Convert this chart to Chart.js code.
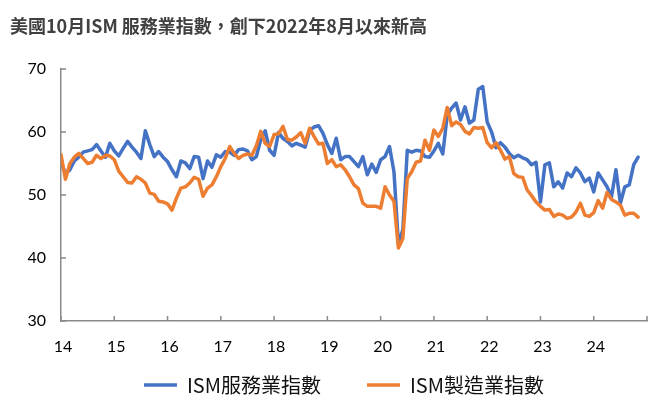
<!DOCTYPE html>
<html>
<head>
<meta charset="utf-8">
<script src="https://cdn.jsdelivr.net/npm/chart.js@4.4.1/dist/chart.umd.min.js"></script>
<style>
  html, body { margin: 0; padding: 0; background: #ffffff; }
  #wrap { width: 663px; height: 410px; }
</style>
</head>
<body>
<div id="wrap"><canvas id="c" width="663" height="410"></canvas></div>
<script>
// ---- text ----
const TITLE = '美國10月ISM 服務業指數，創下2022年8月以來新高';
const SERIES_NAMES = ['ISM服務業指數', 'ISM製造業指數'];

// ---- x axis: year tick labels (one tick every 12 months, first month = 2013-12) ----
const yearLabels = ['14', '15', '16', '17', '18', '19', '20', '21', '22', '23', '24', ''];

// ---- ISM Services index, 2013-12 .. 2024-10 ----
const services = [
  55.2,
  53.4, 54.0, 55.4, 56.0, 56.8, 57.0, 57.2, 58.0, 57.0, 56.0, 58.2, 57.0,
  56.2, 57.4, 58.5, 57.6, 56.8, 55.8, 60.2, 58.0, 56.1, 56.9, 56.0, 55.3,
  54.0, 52.9, 55.4, 55.1, 54.2, 56.1, 56.0, 52.6, 55.4, 54.4, 56.4, 56.0,
  56.9, 56.8, 56.3, 57.2, 57.3, 57.0, 55.6, 56.1, 58.8, 60.2, 57.1, 56.3,
  59.9, 59.0, 58.5, 57.8, 58.2, 57.9, 57.6, 60.2, 60.8, 61.0, 59.8, 58.0,
  56.6, 59.0, 55.6, 56.1, 56.1, 55.3, 54.5, 56.1, 53.2, 54.9, 53.6, 55.6,
  56.1, 57.7, 53.7, 42.2, 44.5, 57.1, 56.8, 57.1, 57.0, 56.1, 56.0, 57.0,
  58.2, 56.5, 62.7, 63.8, 64.6, 61.9, 64.0, 61.4, 61.9, 66.8, 67.2, 61.6,
  60.0, 57.5, 58.3, 57.6, 56.6, 55.9, 56.3, 55.9, 55.6, 54.8, 55.2, 48.9,
  54.8, 55.1, 51.3, 52.1, 51.1, 53.5, 52.9, 54.3, 53.5, 52.1, 52.7, 50.5,
  53.5, 52.4, 51.3, 49.7, 54.0, 48.7, 51.3, 51.6, 54.8, 56.0
];

// ---- ISM Manufacturing index, 2013-12 .. 2024-10 ----
const manufacturing = [
  56.4,
  52.5, 55.0, 56.0, 56.6, 55.8, 55.0, 55.2, 56.3, 55.8, 56.3, 56.2, 55.6,
  53.8, 52.9, 52.0, 51.9, 52.9, 52.5, 51.9, 50.3, 50.1, 49.0, 48.9, 48.6,
  47.6, 49.5, 51.1, 51.3, 51.9, 52.8, 52.5, 49.8, 51.1, 51.6, 52.9, 54.5,
  55.8, 57.7, 56.6, 55.8, 56.3, 56.5, 56.3, 57.8, 60.1, 58.2, 57.7, 59.6,
  59.7, 60.9, 58.8, 58.7, 59.2, 59.9, 58.2, 60.6, 59.3, 58.1, 58.2, 55.0,
  55.6, 54.5, 54.8, 54.0, 52.9, 51.6, 51.0, 48.7, 48.2, 48.2, 48.2, 47.9,
  51.3, 50.0, 49.0, 41.6, 43.1, 52.6, 53.7, 55.2, 55.4, 58.7, 57.1, 60.3,
  59.3, 60.6, 63.9, 61.0, 61.6, 61.2, 60.1, 59.7, 60.7, 60.6, 60.7, 58.3,
  57.5, 58.3, 57.1, 55.7, 56.1, 53.4, 52.9, 52.8, 50.8, 49.9, 48.9, 48.2,
  47.6, 47.7, 46.6, 47.0, 46.8, 46.3, 46.5, 47.3, 48.7, 46.8, 46.6, 47.2,
  49.1, 47.9, 50.4, 49.3, 48.9, 48.4, 46.8, 47.1, 47.1, 46.5
];

// ---- y axis ----
const yTicks = [30, 40, 50, 60, 70];

// ---- styling ----
const BLUE = '#4472C4';
const ORANGE = '#ED7D31';
const AXIS_COLOR = '#8a8a8a';
const MONTHS_PER_TICK = 12;
const LEGEND_SHIFT_X = 13;
const LEGEND_SHIFT_Y = -28;

const toPoints = arr => arr.map((v, i) => ({ x: i, y: v }));

const innerTicks = {
  id: 'innerTicks',
  beforeDatasetsDraw(chart) {
    const { ctx, chartArea, scales } = chart;
    const x = scales.x, y = scales.y;
    ctx.save();
    ctx.strokeStyle = AXIS_COLOR;
    ctx.lineWidth = 1.5;
    ctx.beginPath();
    x.ticks.forEach(t => {
      const px = x.getPixelForValue(t.value);
      ctx.moveTo(px, chartArea.bottom);
      ctx.lineTo(px, chartArea.bottom - 5);
    });
    y.ticks.forEach(t => {
      const py = y.getPixelForValue(t.value);
      ctx.moveTo(chartArea.left, py);
      ctx.lineTo(chartArea.left + 5, py);
    });
    ctx.stroke();
    ctx.restore();
  }
};

// moves the legend box (its top edge only, bottom stays at the canvas edge)
const legendShift = {
  id: 'legendShift',
  afterLayout(chart) {
    const l = chart.legend;
    if (l) {
      l.left += LEGEND_SHIFT_X; l.right += LEGEND_SHIFT_X;
      l.top += LEGEND_SHIFT_Y; l.height -= LEGEND_SHIFT_Y;
    }
  }
};

new Chart(document.getElementById('c'), {
  type: 'line',
  data: {
    datasets: [
      { label: SERIES_NAMES[0], data: toPoints(services), borderColor: BLUE, backgroundColor: BLUE, borderWidth: 3.5, order: 2 },
      { label: SERIES_NAMES[1], data: toPoints(manufacturing), borderColor: ORANGE, backgroundColor: ORANGE, borderWidth: 3.5, order: 1 }
    ]
  },
  options: {
    responsive: false,
    animation: false,
    devicePixelRatio: 1,
    layout: { padding: { left: 10, right: 11, top: 0, bottom: 0 } },
    elements: {
      point: { radius: 0, hoverRadius: 0 },
      line: { tension: 0, borderJoinStyle: 'round', borderCapStyle: 'round' }
    },
    scales: {
      x: {
        type: 'linear',
        min: 0,
        max: (yearLabels.length - 1) * MONTHS_PER_TICK,
        afterBuildTicks: s => { s.ticks = yearLabels.map((_, i) => ({ value: i * MONTHS_PER_TICK })); },
        afterFit: s => { s.height = 36; },
        grid: { display: false, drawTicks: false },
        border: { display: true, color: AXIS_COLOR, width: 1.5 },
        ticks: {
          autoSkip: false, maxRotation: 0, padding: 16, labelOffset: 2,
          color: '#000000',
          font: { family: 'Lato', size: 16 },
          callback: v => yearLabels[Math.round(v / MONTHS_PER_TICK)]
        }
      },
      y: {
        min: yTicks[0],
        max: yTicks[yTicks.length - 1],
        afterBuildTicks: s => { s.ticks = yTicks.map(v => ({ value: v })); },
        afterFit: s => { s.width = 51; },
        grid: { display: false, drawTicks: false },
        border: { display: true, color: AXIS_COLOR, width: 1.5 },
        ticks: { padding: 15, color: '#000000', font: { family: 'Lato', size: 16 } }
      }
    },
    plugins: {
      title: {
        display: true,
        text: TITLE,
        align: 'start',
        color: '#404040',
        font: { family: '"Noto Sans CJK TC", "Noto Sans CJK SC", sans-serif', size: 18, weight: 'bold' },
        padding: { top: 15, bottom: 32.4 }
      },
      legend: {
        position: 'bottom',
        maxHeight: 53,
        labels: {
          usePointStyle: true,
          pointStyle: 'line',
          pointStyleWidth: 33,
          padding: 46,
          color: '#111111',
          font: { family: '"Noto Sans CJK TC", "Noto Sans CJK SC", sans-serif', size: 20 },
          sort: (a, b) => a.datasetIndex - b.datasetIndex
        }
      },
      tooltip: { enabled: false }
    }
  },
  plugins: [innerTicks, legendShift]
});
</script>
</body>
</html>
